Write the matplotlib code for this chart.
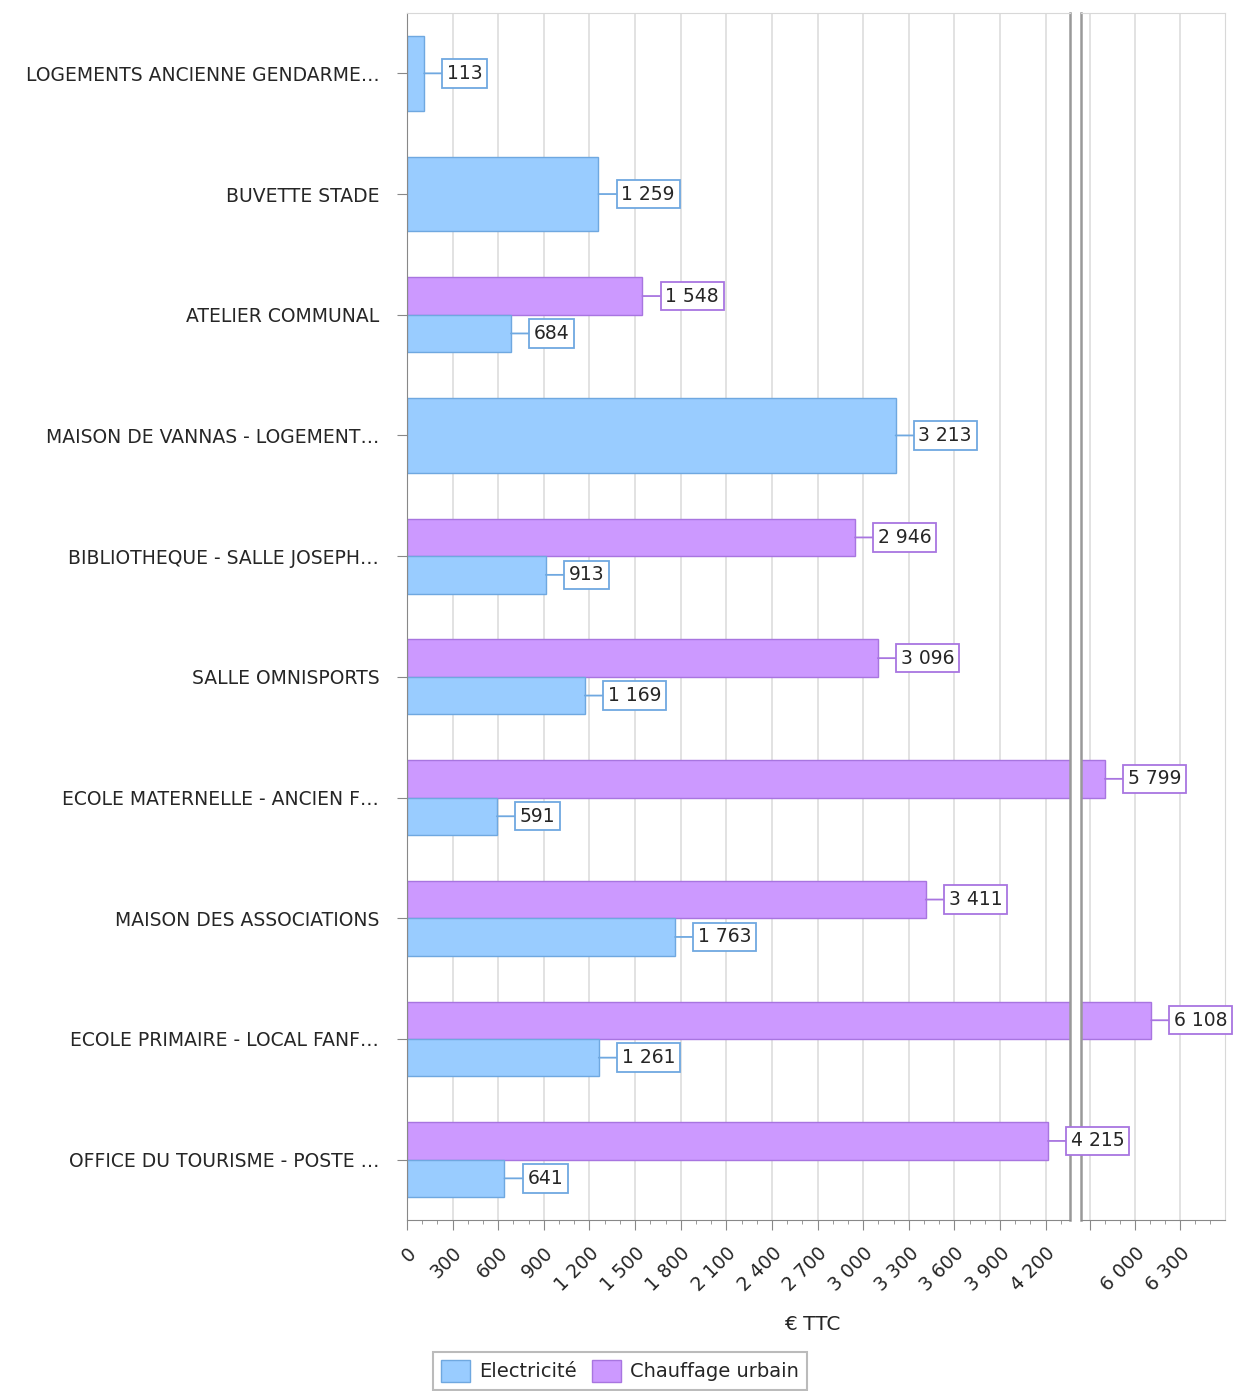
import matplotlib
matplotlib.use("Agg")
import matplotlib.pyplot as plt
from matplotlib.patches import Patch
import numpy as np

categories = [
    "LOGEMENTS ANCIENNE GENDARME…",
    "BUVETTE STADE",
    "ATELIER COMMUNAL",
    "MAISON DE VANNAS - LOGEMENT…",
    "BIBLIOTHEQUE - SALLE JOSEPH…",
    "SALLE OMNISPORTS",
    "ECOLE MATERNELLE - ANCIEN F…",
    "MAISON DES ASSOCIATIONS",
    "ECOLE PRIMAIRE - LOCAL FANF…",
    "OFFICE DU TOURISME - POSTE …",
]
electricite = [113, 1259, 684, 3213, 913, 1169, 591, 1763, 1261, 641]
chauffage = [None, None, 1548, None, 2946, 3096, 5799, 3411, 6108, 4215]

series_names = ["Electricité", "Chauffage urbain"]
fill_colors = ["#99ccff", "#cc99ff"]
edge_colors = ["#6fa8e0", "#a875e0"]

left_max = 4360
right_min, right_max = 5640, 6600

plt.rcParams["font.family"] = ["DejaVu Sans"]
text_color = "#262626"
fs = 13.5

W, H = 1233, 1391
fig = plt.figure(figsize=(W / 100, H / 100), dpi=100)


def ax_rect(x0, x1, y0=13, y1=1220):
    return [x0 / W, 1 - y1 / H, (x1 - x0) / W, (y1 - y0) / H]


ax1 = fig.add_axes(ax_rect(407, 1070))
ax2 = fig.add_axes(ax_rect(1081, 1225))
ax1.set_zorder(3)
ax1.patch.set_visible(False)

y = np.arange(len(categories))
group = 0.62


def fmt(v):
    return f"{v:,}".replace(",", " ")


for ax in (ax1, ax2):
    for i in range(len(categories)):
        vals = [electricite[i], chauffage[i]]
        present = [k for k in range(2) if vals[k] is not None]
        if len(present) == 1:
            slots = {present[0]: (y[i], group)}
        else:
            # chauffage on top, electricite below
            slots = {1: (y[i] - group / 4, group / 2), 0: (y[i] + group / 4, group / 2)}
        for k, (yc, h) in slots.items():
            v = vals[k]
            ax.barh(yc, v, height=h, color=fill_colors[k], edgecolor=edge_colors[k],
                    linewidth=1, zorder=2)
            in_left = v <= left_max
            if (ax is ax1 and in_left) or (ax is ax2 and not in_left):
                ax.annotate(fmt(v), xy=(v, yc), xytext=(16.5, 0), textcoords="offset points",
                            ha="left", va="center", fontsize=fs, color=text_color,
                            bbox=dict(boxstyle="square,pad=0.25", fc="white",
                                      ec=edge_colors[k], lw=1.3),
                            arrowprops=dict(arrowstyle="-", color=edge_colors[k], lw=1.3,
                                            shrinkA=0, shrinkB=0),
                            zorder=5, annotation_clip=False)
    ax.set_ylim(len(categories) - 0.5, -0.5)
    ax.grid(axis="x", color="#dddddd", linewidth=1.2, zorder=0)
    ax.set_axisbelow(True)
    ax.spines["top"].set_color("#d8d8d8")
    ax.spines["bottom"].set_color("#888888")
    ax.tick_params(axis="x", which="major", length=7, color="#888888", labelsize=fs,
                   labelcolor=text_color, pad=10)
    ax.tick_params(axis="x", which="minor", length=3, color="#888888")

ax1.set_xlim(0, left_max)
ax2.set_xlim(right_min, right_max)

ticks1 = np.arange(0, 4201, 300)
ax1.set_xticks(ticks1)
ax1.set_xticklabels([fmt(t) for t in ticks1], rotation=45, ha="right", rotation_mode="anchor")
ax1.set_xticks(np.arange(0, left_max, 100), minor=True)
ticks2 = [5700, 6000, 6300]
ax2.set_xticks(ticks2)
ax2.set_xticklabels(["", fmt(6000), fmt(6300)], rotation=45, ha="right", rotation_mode="anchor")
ax2.set_xticks(np.arange(5700, right_max, 100), minor=True)

ax1.set_yticks(y)
ax1.set_yticklabels(categories, fontsize=fs, color=text_color)
ax1.tick_params(axis="y", length=7, color="#888888", pad=13)
ax1.spines["left"].set_color("#888888")
ax1.spines["right"].set_color("#999999")
ax1.spines["right"].set_linewidth(1.8)

ax2.set_yticks([])
ax2.spines["left"].set_color("#999999")
ax2.spines["left"].set_linewidth(1.8)
ax2.spines["right"].set_color("#d8d8d8")

fig.text(812 / W, 1 - 1325 / H, "€ TTC", ha="center", va="center", fontsize=fs + 1,
         color=text_color)

handles = [Patch(facecolor=fill_colors[k], edgecolor=edge_colors[k]) for k in range(2)]
leg = fig.legend(handles, series_names, loc="upper center",
                 bbox_to_anchor=(620 / W, 1 - 1352 / H), ncol=2, fontsize=fs + 0.5,
                 frameon=True, fancybox=False, edgecolor="#aaaaaa", handlelength=1.5,
                 handleheight=1.4, columnspacing=0.8, handletextpad=0.45, borderpad=0.4,
                 borderaxespad=0)
leg.get_frame().set_linewidth(1.5)
for t in leg.get_texts():
    t.set_color(text_color)

fig.savefig("out.png", dpi=100)
